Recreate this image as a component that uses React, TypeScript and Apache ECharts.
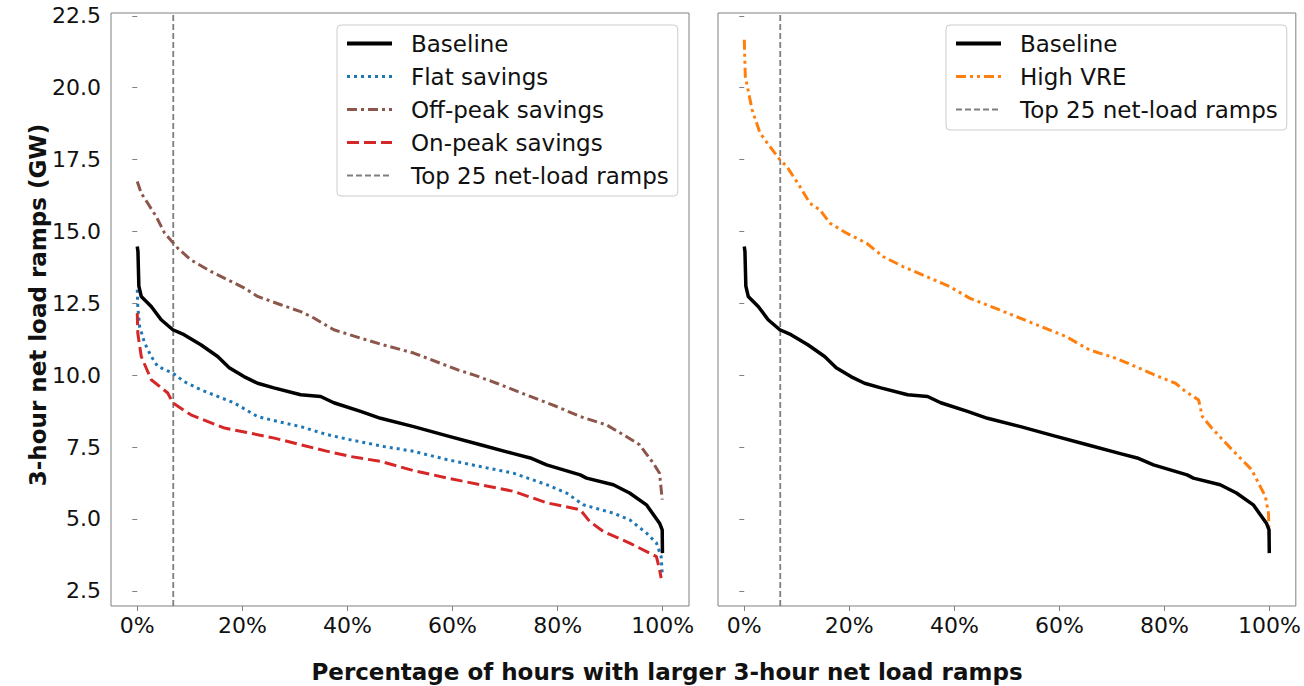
import React, { useEffect, useRef } from "react";
import * as echarts from "echarts";

// Duration-curve data: [percentage of hours, 3-hour net load ramp (GW)]
const baseline: number[][] = [
  [0, 14.48], [0.13, 14.3], [0.3, 13.1], [0.76, 12.74], [2.66, 12.39], [4.55, 11.93],
  [6.77, 11.58], [8.9, 11.41], [12.1, 11.06], [15.3, 10.65], [17.5, 10.26], [20.3, 9.95],
  [22.9, 9.72], [26.0, 9.56], [31.1, 9.32], [34.9, 9.26], [37.4, 9.04], [42.5, 8.74],
  [46.3, 8.5], [52.6, 8.21], [59, 7.89], [65.3, 7.58], [71.6, 7.27], [74.8, 7.12],
  [77.9, 6.88], [84.3, 6.53], [85.5, 6.42], [90.6, 6.19], [93.7, 5.9], [96.9, 5.49],
  [99.4, 4.85], [99.9, 4.62], [99.95, 3.81],
];
const flatSavings: number[][] = [
  [0, 12.97], [0.1, 12.39], [0.44, 11.69], [1.4, 11.12], [2.66, 10.65], [3.9, 10.3],
  [6.8, 10.07], [8.9, 9.78], [12.1, 9.49], [15.3, 9.26], [18.4, 9.04], [22.9, 8.56],
  [26.7, 8.39], [31.1, 8.21], [36.2, 7.93], [40.6, 7.75], [46.9, 7.52], [52.6, 7.35],
  [59, 7.06], [65.3, 6.82], [71.6, 6.59], [77.9, 6.19], [81.7, 5.9], [84.9, 5.49],
  [90.6, 5.2], [93.7, 4.97], [96.9, 4.51], [98.8, 4.16], [99.7, 3.69], [99.9, 3.11],
];
const offPeakSavings: number[][] = [
  [0, 16.74], [0.76, 16.33], [2, 15.98], [3.6, 15.52], [5.2, 14.94], [7.7, 14.42],
  [10.2, 14.01], [14.0, 13.61], [17.2, 13.32], [20.4, 13.03], [22.9, 12.74], [27.3, 12.45],
  [31.1, 12.21], [33.6, 11.99], [37.4, 11.58], [42.5, 11.29], [46.9, 11.05], [52.6, 10.77],
  [60.9, 10.19], [64, 10.01], [68.4, 9.72], [74.8, 9.26], [79.8, 8.91], [84.3, 8.56],
  [89.3, 8.27], [92.5, 7.93], [95.6, 7.58], [98.2, 6.94], [99.4, 6.59], [99.9, 5.67],
];
const onPeakSavings: number[][] = [
  [0, 12.16], [0.1, 11.46], [0.76, 10.65], [2.66, 9.84], [5.8, 9.38], [6.8, 9.03],
  [10.2, 8.62], [16.6, 8.16], [21.6, 7.98], [26.1, 7.81], [31.1, 7.58], [36.2, 7.35],
  [40.6, 7.17], [46.3, 7.0], [52.6, 6.68], [59, 6.42], [65.3, 6.19], [71.6, 5.96],
  [77.9, 5.56], [84.3, 5.32], [86.1, 4.91], [88.7, 4.56], [93.7, 4.16], [98.8, 3.69],
  [99.4, 3.23], [99.7, 2.94],
];
const highVRE: number[][] = [
  [0, 21.67], [0.2, 20.39], [1.5, 19.23], [3, 18.42], [4.9, 17.95], [6.8, 17.49],
  [8.1, 17.26], [10.6, 16.56], [12.5, 15.98], [14.4, 15.75], [16.3, 15.29], [19.5, 14.94],
  [23.3, 14.59], [26.4, 14.13], [30.2, 13.78], [34.7, 13.43], [39.1, 13.08], [42.9, 12.68],
  [48.6, 12.27], [54.9, 11.81], [61.2, 11.35], [65.7, 10.88], [70.7, 10.59], [74.5, 10.3],
  [78.9, 9.95], [82.1, 9.72], [84, 9.43], [86.5, 9.14], [87.2, 8.56], [89, 8.16],
  [92.9, 7.4], [96.6, 6.71], [99.2, 5.78], [99.8, 5.2], [99.9, 4.27],
];
const topRampsPct = 6.85;
const xTicks = [0, 20, 40, 60, 80, 100];
const yTicks = [2.5, 5, 7.5, 10, 12.5, 15, 17.5, 20, 22.5];
const X_MIN = -5;
const X_MAX = 105;
const Y_MIN = 1.97;
const Y_MAX = 22.6;

const FONT = "'DejaVu Sans', sans-serif";
const SPINE = "#808080";

export default function App() {
  const ref = useRef<HTMLDivElement>(null);
  useEffect(() => {
    document.body.style.margin = "0";
    const chart = echarts.init(ref.current!, null, { renderer: "svg" });

    const xAxisCommon = (gridIndex: number) => ({
      type: "value",
      gridIndex,
      min: X_MIN,
      max: X_MAX,
      axisLine: { show: false },
      splitLine: { show: false },
      axisTick: {
        show: true,
        customValues: xTicks,
        length: 5,
        lineStyle: { color: SPINE, width: 1 },
      },
      axisLabel: {
        show: true,
        customValues: xTicks,
        formatter: (v: number) => `${v}%`,
        color: "#111",
        fontFamily: FONT,
        fontSize: 22,
        margin: 8,
      },
    });
    const yAxisCommon = (gridIndex: number, showLabel: boolean) => ({
      type: "value",
      gridIndex,
      min: Y_MIN,
      max: Y_MAX,
      axisLine: { show: false },
      splitLine: { show: false },
      axisTick: {
        show: true,
        customValues: yTicks,
        length: 5,
        lineStyle: { color: SPINE, width: 1 },
      },
      axisLabel: {
        show: showLabel,
        customValues: yTicks,
        formatter: (v: number) => v.toFixed(1),
        color: "#111",
        fontFamily: FONT,
        fontSize: 22,
        margin: 10,
      },
    });

    const lineSeries = (
      name: string,
      data: number[][],
      idx: number,
      color: string,
      width: number,
      type: any,
      z = 2
    ) => ({
      name,
      type: "line",
      xAxisIndex: idx,
      yAxisIndex: idx,
      data,
      symbol: "none",
      showSymbol: false,
      z,
      lineStyle: { color, width, type, cap: "butt", join: "round" },
      itemStyle: { color },
      emphasis: { disabled: true },
    });

    const vline = (idx: number) =>
      lineSeries(
        "Top 25 net-load ramps",
        [
          [topRampsPct, Y_MIN],
          [topRampsPct, Y_MAX],
        ],
        idx,
        "#7f7f7f",
        1.8,
        [6, 3],
        1
      );

    const legendCommon = {
      orient: "vertical",
      top: 25,
      itemWidth: 45,
      itemHeight: 23,
      itemGap: 10,
      padding: [7, 9, 9, 8],
      borderColor: "#cccccc",
      borderWidth: 1,
      borderRadius: 4,
      backgroundColor: "rgba(255,255,255,0.8)",
      selectedMode: false,
      itemStyle: { opacity: 0 },
      textStyle: {
        fontFamily: FONT,
        fontSize: 23,
        color: "#111",
        lineHeight: 23,
        padding: [0, 0, 0, 14],
      },
    };
    const li = (name: string, width: number) => ({ name, lineStyle: { width } });

    chart.setOption({
      animation: false,
      grid: [
        {
          left: 111,
          top: 13,
          width: 578,
          height: 593,
          show: true,
          borderColor: SPINE,
          borderWidth: 1,
          backgroundColor: "transparent",
        },
        {
          left: 718,
          top: 13,
          width: 579,
          height: 593,
          show: true,
          borderColor: SPINE,
          borderWidth: 1,
          backgroundColor: "transparent",
        },
      ],
      xAxis: [xAxisCommon(0), xAxisCommon(1)],
      yAxis: [yAxisCommon(0, true), yAxisCommon(1, false)],
      legend: [
        {
          ...legendCommon,
          left: 337,
          data: [
            li("Baseline", 4),
            li("Flat savings", 3),
            li("Off-peak savings", 3),
            li("On-peak savings", 3),
            li("Top 25 net-load ramps", 2),
          ],
        },
        {
          ...legendCommon,
          left: 946,
          data: [li("Baseline", 4), li("High VRE", 3), li("Top 25 net-load ramps", 2)],
        },
      ],
      series: [
        lineSeries("Baseline", baseline, 0, "#000000", 3.5, "solid", 3),
        lineSeries("Flat savings", flatSavings, 0, "#1f77b4", 3, [3, 4]),
        lineSeries("Off-peak savings", offPeakSavings, 0, "#8c564b", 3, [10, 4, 3, 4]),
        lineSeries("On-peak savings", onPeakSavings, 0, "#d62728", 3, [12, 5]),
        vline(0),
        lineSeries("Baseline", baseline, 1, "#000000", 3.5, "solid", 3),
        lineSeries("High VRE", highVRE, 1, "#ff7f0e", 3, [10, 4, 3, 4, 3, 4]),
        vline(1),
      ],
      graphic: [
        {
          type: "text",
          x: 38,
          y: 305,
          rotation: Math.PI / 2,
          style: {
            text: "3-hour net load ramps (GW)",
            font: `bold 23px ${FONT}`,
            fill: "#111",
            textAlign: "center",
            textVerticalAlign: "middle",
          },
        },
        {
          type: "text",
          x: 667,
          y: 672,
          style: {
            text: "Percentage of hours with larger 3-hour net load ramps",
            font: `bold 23px ${FONT}`,
            fill: "#111",
            textAlign: "center",
            textVerticalAlign: "middle",
          },
        },
      ],
    });
    return () => chart.dispose();
  }, []);
  return <div ref={ref} style={{ width: 1304, height: 686 }} />;
}
